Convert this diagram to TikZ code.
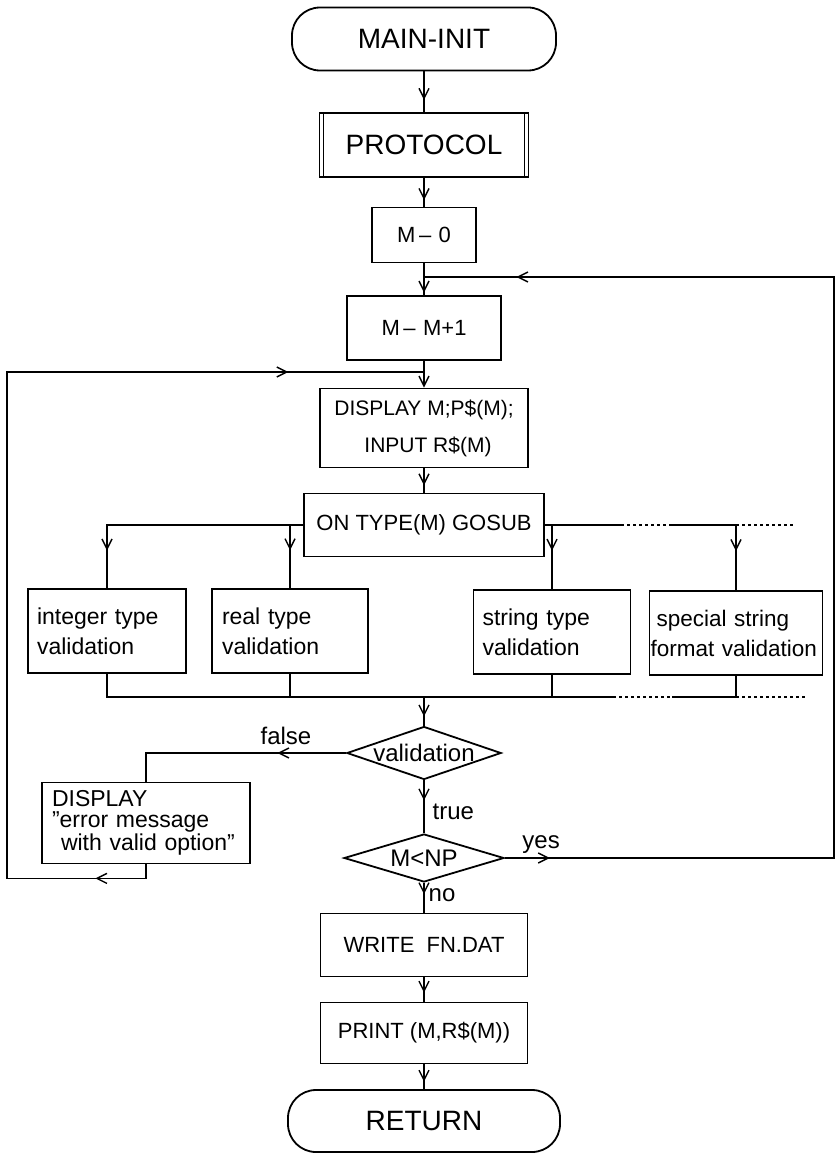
\documentclass[tikz,border=0pt]{standalone}
\usepackage{fontspec}
\setmainfont{Liberation Sans}
\usetikzlibrary{shapes.geometric,arrows.meta,decorations.markings}

\tikzset{
    box/.style={draw, line width=1.8pt, inner sep=0pt, font=\fontsize{21}{24}\selectfont},
    term/.style={box, rounded corners=28pt, font=\fontsize{28}{32}\selectfont},
    test/.style={box, diamond, aspect=3, font=\fontsize{24}{26}\selectfont},
    chk/.style={box, minimum height=84pt, align=left, font=\fontsize{23}{30}\selectfont},
    lbl/.style={font=\fontsize{24}{26}\selectfont, inner sep=2pt},
    flow/.style={line width=1.4pt},
    dots/.style={flow, dash pattern=on 3pt off 3pt},
    arr/.style={postaction={decorate, decoration={markings, mark=at position #1 with {\arrow{Straight Barb[length=10pt,width=10pt]}}}}},
}

\begin{document}
\begin{tikzpicture}[x=1pt, y=1pt]
    \useasboundingbox (0,0) rectangle (836,-1153);

    \node[term, minimum width=264pt, minimum height=63pt] (init) at (424,-39) {MAIN-INIT};
    \node[box, minimum width=209pt, minimum height=64pt, font=\fontsize{28}{32}\selectfont] (proto) at (424,-145) {PROTOCOL};
    \node[box, minimum width=104pt, minimum height=55pt, font=\fontsize{22}{24}\selectfont] (m0) at (424,-235) {M\,--\,\,0};
    \node[box, minimum width=154pt, minimum height=64pt, font=\fontsize{22}{24}\selectfont] (mm1) at (424,-328) {M\,--\,\,M+1};
    \node[box, minimum width=208pt, minimum height=79pt, align=center, font=\fontsize{21}{37}\selectfont] (disp) at (424,-428) {DISPLAY M;P\$(M);\\\hspace*{8pt}INPUT R\$(M)};
    \node[box, minimum width=240pt, minimum height=63pt, font=\fontsize{22}{24}\selectfont] (ont) at (424,-525) {ON TYPE(M) GOSUB};
    \node[chk, minimum width=158pt, text width=140pt] (intv) at (107,-631) {integer type\\validation};
    \node[chk, minimum width=156pt, text width=136pt] (realv) at (290,-631) {real type\\validation};
    \node[chk, minimum width=157pt, text width=139pt] (strv) at (552,-632) {string type\\validation};
    \node[chk, minimum width=173pt, text width=171pt, font=\fontsize{22.5}{30}\selectfont] (spec) at (736,-633) {\hspace*{6pt}special string\\format validation};
    \node[test, minimum width=154pt, minimum height=53pt] (vd) at (424,-753) {validation};
    \node[box, minimum width=208pt, minimum height=81pt, text width=188pt, align=left, font=\fontsize{23}{21}\selectfont] (err) at (146,-823) {DISPLAY\\\symbol{34}error message\\\hspace*{9pt}with valid option\symbol{34}};
    \node[test, minimum width=160pt, minimum height=48pt] (lt) at (424,-858) {M<NP};
    \node[box, minimum width=207pt, minimum height=63pt, font=\fontsize{22}{24}\selectfont] (write) at (424,-945) {WRITE\ \ FN.DAT};
    \node[box, minimum width=207pt, minimum height=61pt, font=\fontsize{22}{24}\selectfont] (print) at (424,-1033) {PRINT (M,R\$(M))};
    \node[term, minimum width=272pt, minimum height=62pt] (ret) at (424,-1121) {RETURN};

    \draw[line width=1.5pt] ([xshift=5pt]proto.north west) -- ([xshift=5pt]proto.south west)
        ([xshift=-5pt]proto.north east) -- ([xshift=-5pt]proto.south east);

    \coordinate (rside) at (834,-277);
    \coordinate (jtop) at (424,-277);
    \coordinate (lside) at (7,-372);
    \coordinate (jleft) at (424,-372);
    \coordinate (bra) at (621,-525);
    \coordinate (brb) at (672,-525);
    \coordinate (brd) at (795,-525);
    \coordinate (mg) at (613,-697);
    \coordinate (mgb) at (672,-697);
    \coordinate (mgd) at (806,-697);

    \draw[flow, arr=0.7] (init) -- (proto);
    \draw[flow, arr=0.77] (proto) -- (m0);
    \draw[flow, arr=0.92] (m0) -- (mm1);
    \draw[flow, -{Straight Barb[length=10pt,width=10pt]}] (mm1) -- (disp);
    \draw[flow, arr=0.7] (disp) -- (ont);

    \draw[flow, arr=0.855] (ont.west) -| (intv.north);
    \draw[flow, arr=0.4] (ont.west -| realv.north) -- (realv.north);
    \draw[flow] (ont.east) -- (bra);
    \draw[dots] (bra) -- (brb);
    \draw[flow] (brb) -- (spec.north |- brb);
    \draw[dots] (spec.north |- brb) -- (brd);
    \draw[flow, arr=0.4] (ont.east -| strv.north) -- (strv.north);
    \draw[flow, arr=0.4] (spec.north |- ont.east) -- (spec.north);

    \draw[flow] (intv.south) |- (mg);
    \draw[flow] (realv.south) -- (realv.south |- mg);
    \draw[flow] (strv.south) -- (strv.south |- mg);
    \draw[dots] (mg) -- (mgb);
    \draw[flow] (mgb) -- (spec.south |- mg) -- (spec.south);
    \draw[dots] (spec.south |- mg) -- (mgd);
    \draw[flow, arr=0.68] (vd.north |- mg) -- (vd);

    \draw[flow, arr=0.3] (vd.west) -| node[lbl, above=6pt, pos=0.15] {false} (err.north);
    \draw[flow, arr=0.06, arr=0.874] (err.south) -- ++(0,-14) -| (lside) -- (jleft);
    \draw[flow, arr=0.38] (vd) -- node[lbl, right=6pt, pos=0.6] {true} (lt);
    \draw[flow, arr=0.034, arr=0.93] (lt.east) -| node[lbl, above=2pt, pos=0.055] {yes} (rside) -- (jtop);
    \draw[flow, arr=0.38] (lt) -- node[lbl, right=2pt, pos=0.42] {no} (write);
    \draw[flow, arr=0.63] (write) -- (print);
    \draw[flow, arr=0.7] (print) -- (ret);
\end{tikzpicture}
\end{document}
